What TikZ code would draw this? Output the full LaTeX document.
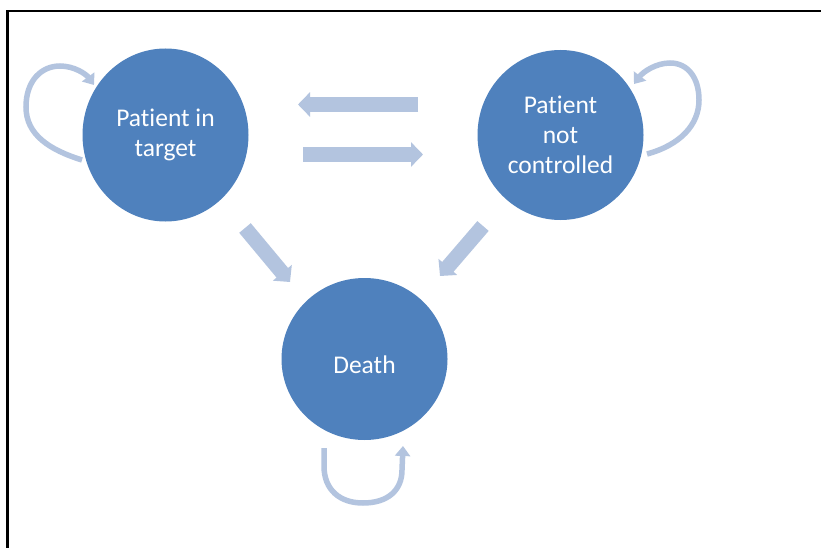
\documentclass[tikz,border=0pt]{standalone}
\usepackage{fontspec}
\setmainfont{Carlito}[Ligatures=NoCommon]
\usetikzlibrary{shapes.geometric,arrows.meta}
\definecolor{stateblue}{HTML}{4F81BD}
\definecolor{flowblue}{HTML}{B3C4DF}
\tikzset{
  state/.style={ellipse, fill=stateblue, draw=none, text=white, align=center,
    font=\fontsize{25.5}{30}\selectfont, inner sep=0pt},
  blockarrow/.style={draw=flowblue, line width=15pt,
    -{Triangle[length=12pt,width=24pt]}},
  loop arrow/.style={draw=flowblue, line width=5.5pt,
    -{Triangle[length=10pt,width=15pt]}},
}
\begin{document}
\begin{tikzpicture}[x=1pt,y=-1pt]
  \useasboundingbox (0,0) rectangle (821,548);
  \fill[white] (0,0) rectangle (821,548);
  % frame
  \draw[line width=2.5pt] (7.5,548) -- (7.5,11) -- (821,11);

  % states
  \node[state, minimum width=166pt, minimum height=173pt] (target) at (165.5,135) {Patient in\\target};
  \node[state, minimum width=166pt, minimum height=170pt] (notctrl) at (560.5,135) {Patient\\not\\controlled};
  \node[state, minimum width=166pt, minimum height=162pt] (death) at (364.5,359) {\raisebox{-6pt}[\height][\depth]{Death}};

  % block arrow end points
  \coordinate (a1s) at (418,104.5);
  \coordinate (a1e) at (298,104.5);
  \coordinate (a2s) at (303,154.5);
  \coordinate (a2e) at (423,154.5);
  \coordinate (a3s) at (245,228);
  \coordinate (a3e) at (290,282);
  \coordinate (a4s) at (483,226);
  \coordinate (a4e) at (440,276);
  \draw[blockarrow] (a1s) -- (a1e);
  \draw[blockarrow] (a2s) -- (a2e);
  \draw[blockarrow] (a3s) -- (a3e);
  \draw[blockarrow] (a4s) -- (a4e);

  % self loops
  \coordinate (l1s) at (82,160);
  \coordinate (l1e) at (94,85);
  \draw[loop arrow] (l1s) .. controls (50,150) and (26,135) .. (26,107)
    .. controls (26,80) and (42,66) .. (60,66)
    .. controls (74,66) and (86,74) .. (l1e);

  \coordinate (r1s) at (647,154);
  \coordinate (r1e) at (634,84);
  \draw[loop arrow] (r1s) .. controls (680,145) and (699,125) .. (699,100)
    .. controls (699,78) and (688,63) .. (670,63)
    .. controls (656,63) and (643,72) .. (r1e);

  \coordinate (d1s) at (324,448);
  \coordinate (d1e) at (403,446);
  \draw[loop arrow] (d1s) -- (324,466)
    .. controls (324,490) and (340,503) .. (363,503)
    .. controls (388,503) and (402,490) .. (402,470) -- (d1e);
\end{tikzpicture}
\end{document}
